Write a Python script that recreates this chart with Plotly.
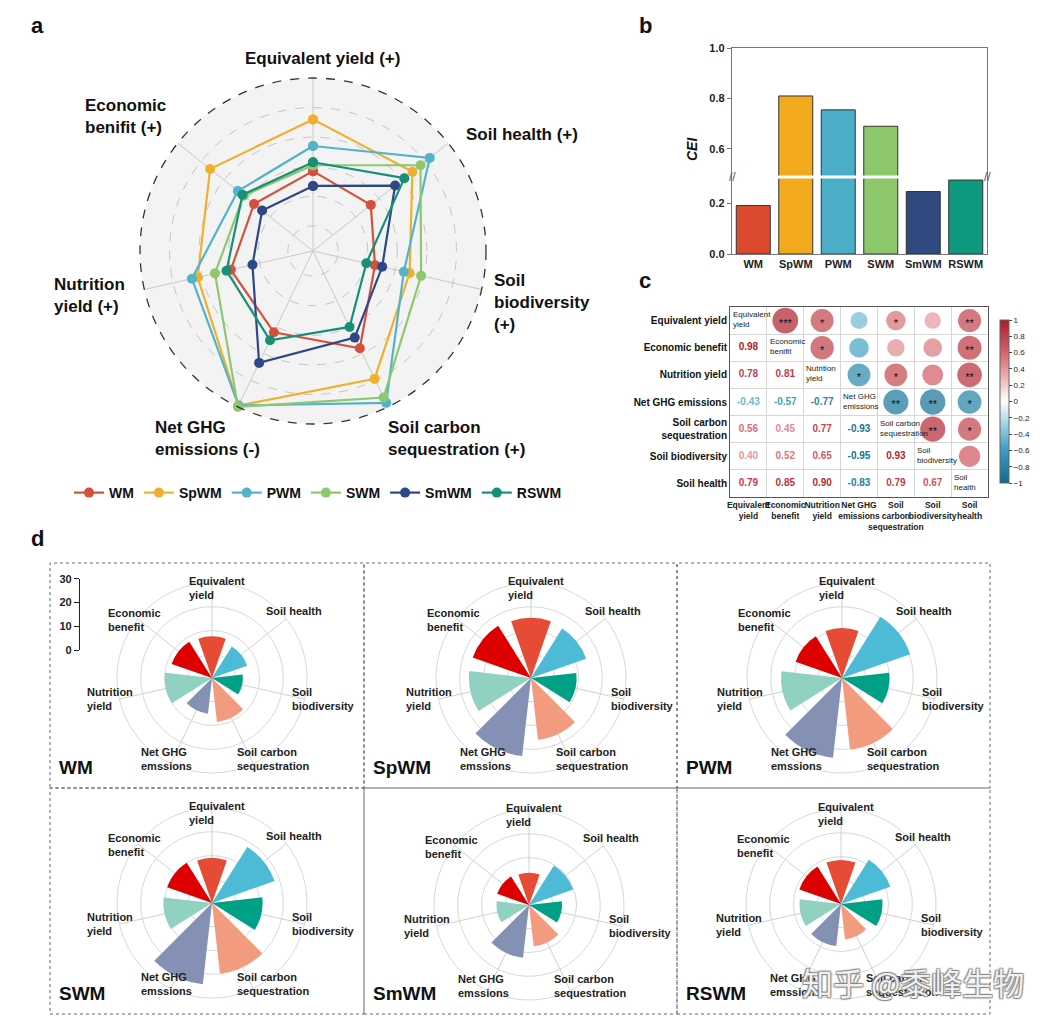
import plotly.graph_objects as go
from plotly.colors import sample_colorscale

W, H = 1057, 1025
PAGE_MARGIN = 8  # default body margin of the html page
FW, FH = W - 2 * PAGE_MARGIN, H - 2 * PAGE_MARGIN
FONT = "Arial, Liberation Sans, sans-serif"

# ---------------- data ----------------
treatments = ["WM", "SpWM", "PWM", "SWM", "SmWM", "RSWM"]

# panel a - normalised scores on each axis
radar_axes = ["Equivalent yield", "Soil health", "Soil biodiversity",
              "Soil carbon sequestration", "Net GHG emissions",
              "Nutrition yield", "Economic benefit"]
radar_wm = [0.37, 0.33, 0.26, 0.56, 0.44, 0.40, 0.34]
radar_spwm = [0.72, 0.69, 0.50, 0.79, 0.99, 0.63, 0.72]
radar_pwm = [0.54, 0.84, 0.46, 0.97, 0.99, 0.67, 0.48]
radar_swm = [0.41, 0.76, 0.58, 0.93, 1.00, 0.51, 0.43]
radar_smwm = [0.27, 0.54, 0.31, 0.48, 0.67, 0.25, 0.27]
radar_rswm = [0.43, 0.62, 0.20, 0.40, 0.50, 0.43, 0.44]

# panel b - CEI
cei = [0.19, 0.81, 0.755, 0.69, 0.245, 0.29]

# panel c - correlations (lower triangle) and significance (upper triangle)
corr_labels = ["Equivalent yield", "Economic benefit", "Nutrition yield",
               "Net GHG emissions", "Soil carbon sequestration",
               "Soil biodiversity", "Soil health"]
corr_lower = [
    [],
    [0.98],
    [0.78, 0.81],
    [-0.43, -0.57, -0.77],
    [0.56, 0.45, 0.77, -0.93],
    [0.40, 0.52, 0.65, -0.95, 0.93],
    [0.79, 0.85, 0.90, -0.83, 0.79, 0.67],
]
corr_stars = [
    ["", "***", "*", "", "*", "", "**"],
    ["", "", "*", "", "", "", "**"],
    ["", "", "", "*", "*", "", "**"],
    ["", "", "", "", "**", "**", "*"],
    ["", "", "", "", "", "**", "*"],
    ["", "", "", "", "", "", ""],
    ["", "", "", "", "", "", ""],
]
row_ticks = ["Equivalent yield", "Economic benefit", "Nutrition yield",
             "Net GHG emissions", "Soil carbon<br>sequestration",
             "Soil biodiversity", "Soil health"]
col_ticks = ["Equivalent<br>yield", "Economic<br>benefit", "Nutrition<br>yield",
             "Net GHG<br>emissions", "Soil<br>carbon<br>sequestration",
             "Soil<br>biodiversity", "Soil<br>health"]
diag_text = ["Equivalent<br>yield", "Economic<br>benifit", "Nutrition<br>yield",
             "Net GHG<br>emissions", "Soil carbon<br>sequestration",
             "Soil<br>biodiversity", "Soil<br>health"]

# panel d - rose charts
rose_axes = ["Equivalent yield", "Soil health", "Soil biodiversity",
             "Soil carbon sequestration", "Net GHG emssions",
             "Nutrition yield", "Economic benefit"]
rose_wm = [17.5, 15.7, 13.0, 18.6, 15.1, 19.9, 18.0]
rose_spwm = [25.3, 24.6, 19.2, 26.2, 33.1, 26.1, 26.0]
rose_pwm = [21.0, 30.4, 20.0, 30.3, 33.8, 25.7, 20.7]
rose_swm = [19.0, 27.9, 21.3, 29.9, 34.4, 20.5, 20.0]
rose_smwm = [13.6, 19.7, 13.9, 17.5, 22.4, 13.7, 14.2]
rose_rswm = [18.5, 22.0, 17.5, 15.0, 17.8, 17.5, 18.6]
rose_labels = ["Equivalent<br>yield", "Soil health", "Soil<br>biodiversity",
               "Soil carbon<br>sequestration", "Net GHG<br>emssions",
               "Nutrition<br>yield", "Economic<br>benefit"]

# ---------------- styles ----------------
radar_colors = ["#d5503a", "#efb02f", "#55b2cb", "#8dc76f", "#2d4787", "#1a8f77"]
bar_colors = ["#db4a2e", "#f2aa1c", "#4aaec8", "#8cc76b", "#2e4a7e", "#0f9a80"]
rose_colors = ["#E64B35", "#4DBBD5", "#00A087", "#F39B7F", "#8491B4", "#91D1C2", "#DC0000"]
corr_scale = [[0.0, "#0f6a8f"], [0.2, "#3b9cc2"], [0.4, "#b9dfec"], [0.5, "#ffffff"],
              [0.6, "#f3cccc"], [0.8, "#d6636a"], [1.0, "#ad1a28"]]


def px_x(x):
    return (x - PAGE_MARGIN) / FW


def px_y(y):
    return 1 - (y - PAGE_MARGIN) / FH


def note(text, x, y, size, xanchor="center", yanchor="middle", **kw):
    return dict(text=text, x=px_x(x), y=px_y(y), xref="paper", yref="paper",
                showarrow=False, xanchor=xanchor, yanchor=yanchor,
                font=dict(family=FONT, size=size, color=kw.pop("color", "#111")), **kw)


fig = go.Figure()
annotations = []
shapes = []

# ---------------- panel a: radar ----------------
radar_series = [radar_wm, radar_spwm, radar_pwm, radar_swm, radar_smwm, radar_rswm]
for name, vals, col in zip(treatments, radar_series, radar_colors):
    fig.add_trace(go.Scatterpolar(
        r=vals + vals[:1], theta=radar_axes + radar_axes[:1], name=name,
        mode="lines+markers", line=dict(color=col, width=2.2),
        marker=dict(size=10, color=col), subplot="polar"))

rc_x, rc_y, rr = 313, 251, 173
polar_a = dict(
    domain=dict(x=[px_x(rc_x - rr), px_x(rc_x + rr)], y=[px_y(rc_y + rr), px_y(rc_y - rr)]),
    bgcolor="#f3f3f3",
    radialaxis=dict(range=[-0.17, 1], tickvals=[0, 0.2, 0.4, 0.6, 0.8], showticklabels=False,
                    ticks="", showline=False, gridcolor="#c4c4c4", griddash="dash"),
    angularaxis=dict(rotation=90, direction="clockwise", showticklabels=False, ticks="",
                     gridcolor="#c8c8c8", showline=False,
                     categoryorder="array", categoryarray=radar_axes),
)
shapes.append(dict(type="circle", xref="paper", yref="paper",
                   x0=px_x(rc_x - rr), x1=px_x(rc_x + rr), y0=px_y(rc_y + rr), y1=px_y(rc_y - rr),
                   line=dict(color="#333", width=1.3, dash="dash")))

big = 17
annotations += [
    note("<b>Equivalent yield (+)</b>", 322, 58, big),
    note("<b>Soil health (+)</b>", 464, 135, big, xanchor="left"),
    note("<b>Soil<br>biodiversity<br>(+)</b>", 492, 302, big, xanchor="left", align="left"),
    note("<b>Soil carbon<br>sequestration (+)</b>", 386, 439, big, xanchor="left", align="left"),
    note("<b>Net GHG<br>emissions (-)</b>", 153, 439, big, xanchor="left", align="left"),
    note("<b>Nutrition<br>yield (+)</b>", 52, 295, big, xanchor="left", align="left"),
    note("<b>Economic<br>benifit (+)</b>", 83, 116, big, xanchor="left", align="left"),
]

# ---------------- panel b: broken-axis bars ----------------
for xa, ya in (("x", "y"), ("x2", "y2")):
    fig.add_trace(go.Bar(x=treatments, y=cei, width=0.8, xaxis=xa, yaxis=ya, showlegend=False,
                         marker=dict(color=bar_colors, line=dict(color="#333", width=1))))

bx0, bx1, b_bot, b_brk, b_top = 732, 987, 254, 177, 48
axis_common = dict(showline=True, linecolor="#777", linewidth=1.3, showgrid=False, zeroline=False,
                   tickfont=dict(family=FONT, size=11, color="#222", weight="bold"))

# ---------------- panel c: correlation matrix ----------------
n = len(corr_labels)
corr = [[1.0] * n for _ in range(n)]
for i, row in enumerate(corr_lower):
    for j, v in enumerate(row):
        corr[i][j] = v
        corr[j][i] = v

up_x, up_y, up_v, up_s = [], [], [], []
lo_x, lo_y, lo_v = [], [], []
for i in range(n):
    for j in range(n):
        if j > i:
            up_x.append(j)
            up_y.append(i)
            up_v.append(corr[i][j])
            up_s.append(corr_stars[i][j])
        elif j < i:
            lo_x.append(j)
            lo_y.append(i)
            lo_v.append(corr[i][j])

fig.add_trace(go.Scatter(
    x=up_x, y=up_y, mode="markers", xaxis="x3", yaxis="y3", showlegend=False,
    marker=dict(size=[abs(v) for v in up_v], sizemode="area", sizeref=2.0 / 26 ** 2,
                color=up_v, colorscale=corr_scale, cmin=-1, cmax=1, line=dict(width=0),
                showscale=True,
                colorbar=dict(x=px_x(990), xanchor="left", y=px_y(401.5), yanchor="middle",
                              len=183 / FH, lenmode="fraction", thickness=9,
                              tickvals=[1, 0.8, 0.6, 0.4, 0.2, 0, -0.2, -0.4, -0.6, -0.8, -1],
                              ticks="outside", ticklen=3, outlinewidth=1, outlinecolor="#666",
                              tickfont=dict(family=FONT, size=8, color="#222")))))
fig.add_trace(go.Scatter(
    x=up_x, y=[y + 0.12 for y in up_y], mode="text", text=up_s, xaxis="x3", yaxis="y3",
    showlegend=False, textfont=dict(family=FONT, size=11, color="#111")))
fig.add_trace(go.Scatter(
    x=lo_x, y=lo_y, mode="text", text=[f"{v:.2f}" for v in lo_v], xaxis="x3", yaxis="y3",
    showlegend=False,
    textfont=dict(family=FONT, size=10, weight="bold",
                  color=sample_colorscale(corr_scale, [(v + 1) / 2 for v in lo_v]))))
for k, lab in enumerate(diag_text):
    annotations.append(dict(text=lab, x=k - 0.48, y=k - 0.46, xref="x3", yref="y3",
                            showarrow=False, xanchor="left", yanchor="top", align="left",
                            font=dict(family=FONT, size=8, color="#222")))

cx0, cx1, cy0, cy1 = 730, 988, 307, 497
grid_minor = dict(tickmode="linear", tick0=0.5, dtick=1, showgrid=True, gridcolor="#d6d6d6", ticks="")

# ---------------- panel d: rose charts ----------------
rose_series = [rose_wm, rose_spwm, rose_pwm, rose_swm, rose_smwm, rose_rswm]
rose_centers = [(212, 678), (531, 678), (842, 678), (212, 903), (529, 905), (841, 904)]
rose_label_pos = [(-25, -90), (52, -67), (78, 21), (23, 81), (-73, 81), (-127, 21), (-106, -58)]
RR = 95
box_x = [50, 364, 677, 990]
box_y = [563, 788, 1014]
polar_d = {}
for k, (name, vals, (cx, cy)) in enumerate(zip(treatments, rose_series, rose_centers)):
    pid = f"polar{k + 2}"
    fig.add_trace(go.Barpolar(r=vals, theta=rose_axes, subplot=pid, showlegend=False,
                              marker=dict(color=rose_colors, line=dict(width=0))))
    polar_d[pid] = dict(
        domain=dict(x=[px_x(cx - RR), px_x(cx + RR)], y=[px_y(cy + RR), px_y(cy - RR)]),
        bgcolor="rgba(0,0,0,0)", bargap=0.25,
        radialaxis=dict(range=[0, 40], tickvals=[10, 20, 30, 40], showticklabels=False, ticks="",
                        showline=False, gridcolor="#d8d8d8"),
        angularaxis=dict(rotation=90, direction="clockwise", showticklabels=False, ticks="",
                         gridcolor="#d0d0d0", showline=True, linecolor="#d8d8d8",
                         categoryorder="array", categoryarray=rose_axes))
    for lab, (dx, dy) in zip(rose_labels, rose_label_pos):
        annotations.append(note(f"<b>{lab}</b>", cx + dx, cy + dy, 11, xanchor="left",
                                align="left", color="#222"))
    col, row = k % 3, k // 3
    shapes.append(dict(type="rect", xref="paper", yref="paper",
                       x0=px_x(box_x[col]), x1=px_x(box_x[col + 1]),
                       y0=px_y(box_y[row + 1]), y1=px_y(box_y[row]),
                       line=dict(color="#666", width=1, dash="dot")))
    annotations.append(note(f"<b>{name}</b>", box_x[col] + 7, box_y[row + 1] - 21, 19,
                            xanchor="left"))

# scale bar of the rose charts (0-30)
fig.add_trace(go.Scatter(x=[], y=[], xaxis="x4", yaxis="y4", showlegend=False))
scale_bot = 650
scale_top = scale_bot - 30 * RR / 40

# ---------------- texts / decorations ----------------
annotations += [
    note("<b>a</b>", 37, 25, 22),
    note("<b>b</b>", 645, 25, 22),
    note("<b>c</b>", 645, 280, 22),
    note("<b>d</b>", 37, 538, 22),
    note("<b><i>CEI</i></b>", 692, 149, 14, textangle=-90),
    note("//", bx0, b_brk, 12, color="#555"),
    note("//", bx1, b_brk, 12, color="#555"),
    dict(text="知乎 @黍峰生物", x=px_x(800), y=px_y(957), xref="paper", yref="paper",
         showarrow=False, xanchor="left", yanchor="top",
         font=dict(family="Noto Sans CJK SC", size=31, color="rgba(255,255,255,0.9)",
                   shadow="1px 1px 1px #888, -1px -1px 1px #888, 1px -1px 1px #888, -1px 1px 1px #888")),
]
shapes.append(dict(type="line", xref="paper", yref="paper", x0=px_x(bx0 + 1), x1=px_x(bx1 - 1),
                   y0=px_y(b_brk), y1=px_y(b_brk), line=dict(color="white", width=3)))

fig.update_layout(
    width=FW, height=FH, autosize=False, template="none",
    margin=dict(l=0, r=0, t=0, b=0),
    paper_bgcolor="white", plot_bgcolor="rgba(0,0,0,0)",
    font=dict(family=FONT, color="#111"),
    polar=polar_a, **polar_d,
    xaxis=dict(domain=[px_x(bx0), px_x(bx1)], anchor="y", ticks="", range=[-0.5, 5.5], **axis_common),
    xaxis2=dict(domain=[px_x(bx0), px_x(bx1)], anchor="y2", matches="x", side="top",
                showticklabels=False, ticks="", showline=True, linecolor="#777", linewidth=1.3,
                showgrid=False, zeroline=False),
    yaxis=dict(domain=[px_y(b_bot), px_y(b_brk)], anchor="x", range=[0, 0.302], tickvals=[0, 0.2],
               tickformat=".1f", ticks="outside", ticklen=4, tickcolor="#777", mirror=True,
               **axis_common),
    yaxis2=dict(domain=[px_y(b_brk), px_y(b_top)], anchor="x2", range=[0.489, 1.0],
                tickvals=[0.6, 0.8, 1.0], tickformat=".1f", ticks="outside", ticklen=4,
                tickcolor="#777", mirror=True, **axis_common),
    xaxis3=dict(domain=[px_x(cx0), px_x(cx1)], anchor="y3", range=[-0.5, 6.5],
                tickvals=list(range(n)), ticktext=col_ticks, ticks="", showgrid=False,
                zeroline=False, showline=True, mirror=True, linecolor="#555", minor=grid_minor,
                tickangle=0,
                tickfont=dict(family=FONT, size=8.5, color="#222", weight="bold")),
    yaxis3=dict(domain=[px_y(cy1), px_y(cy0)], anchor="x3", range=[6.5, -0.5],
                tickvals=list(range(n)), ticktext=row_ticks, ticks="", showgrid=False,
                zeroline=False, showline=True, mirror=True, linecolor="#555", minor=grid_minor,
                tickfont=dict(family=FONT, size=10, color="#111", weight="bold")),
    xaxis4=dict(domain=[px_x(80), px_x(82)], anchor="y4", visible=False, range=[0, 1]),
    yaxis4=dict(domain=[px_y(scale_bot), px_y(scale_top)], anchor="x4", range=[0, 30],
                tickvals=[0, 10, 20, 30], showline=True, linecolor="#222", linewidth=1.2,
                ticks="outside", ticklen=5, tickcolor="#222", showgrid=False, zeroline=False,
                tickfont=dict(family=FONT, size=11, color="#222", weight="bold")),
    legend=dict(orientation="h", x=px_x(318), xanchor="center", y=px_y(493), yanchor="middle",
                font=dict(family=FONT, size=14, color="#111", weight="bold"),
                bgcolor="rgba(0,0,0,0)", itemwidth=30, tracegroupgap=0),
    annotations=annotations, shapes=shapes,
)

fig.write_html("out.html")
